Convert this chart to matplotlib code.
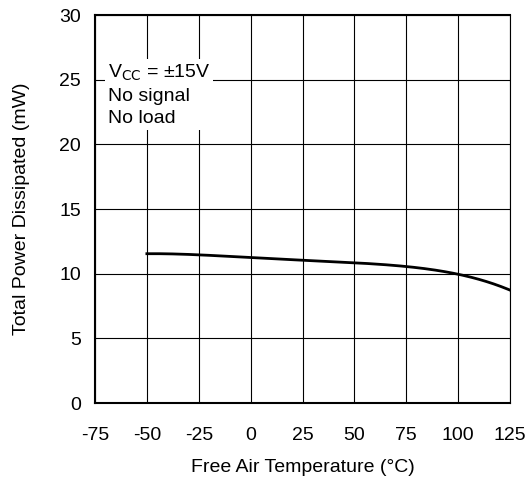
import numpy as np
import matplotlib.pyplot as plt

plt.rcParams['font.family'] = ['Liberation Sans', 'DejaVu Sans']
plt.rcParams['axes.unicode_minus'] = False

# Total power dissipated vs free air temperature
temp = [-50, -25, 0, 25, 50, 75, 87.5, 100, 112.5, 125]
power = [11.55, 11.43, 11.27, 11.05, 10.83, 10.54, 10.3, 9.98, 9.45, 8.72]

x_ticks = [-75, -50, -25, 0, 25, 50, 75, 100, 125]
y_ticks = [0, 5, 10, 15, 20, 25, 30]

fig = plt.figure(figsize=(5.28, 4.83), dpi=100)
ax = fig.add_axes([95 / 528, 80 / 483, 415 / 528, 388 / 483])

# smooth the curve through the read points
coef = np.polyfit(temp, power, 4)
xs = np.linspace(temp[0], temp[-1], 200)
ax.plot(xs, np.polyval(coef, xs), color="black", linewidth=2)

ax.set_xlim(-75, 125)
ax.set_ylim(0, 30)
ax.set_xticks(x_ticks)
ax.set_yticks(y_ticks)
ax.grid(True, color="black", linewidth=0.8)
ax.tick_params(length=0, labelsize=14)
ax.tick_params(axis="x", pad=17)
ax.tick_params(axis="y", pad=10)
for s in ax.spines.values():
    s.set_linewidth(1.5)
ax.spines["right"].set_linewidth(0.8)

ax.set_xlabel("Free Air Temperature (°C)", fontsize=14, labelpad=11)
ax.set_ylabel("Total Power Dissipated (mW)", fontsize=14, labelpad=21)

ax.text(-68.7, 26.3, "V$_{\\mathrm{CC}}$ = ±15V\nNo signal\nNo load",
        fontsize=14, va="top", ha="left", linespacing=1.38,
        bbox=dict(facecolor="white", edgecolor="none", pad=2))

fig.savefig("out.png", dpi=100)
